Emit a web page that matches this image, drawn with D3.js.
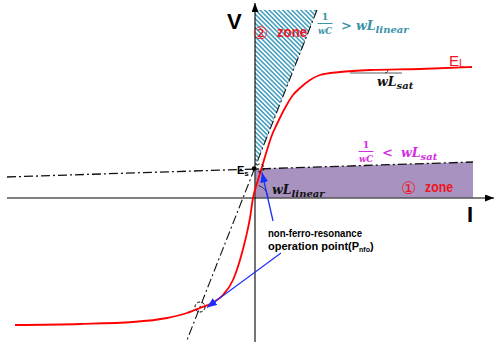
<!DOCTYPE html>
<html>
<head>
<meta charset="utf-8">
<script src="https://cdn.jsdelivr.net/npm/d3@7"></script>
<style>
  html, body { margin: 0; padding: 0; background: #fff; }
  svg { display: block; }
</style>
</head>
<body>
<svg id="chart" width="497" height="342"></svg>
<script>
// Magnetising characteristic E_L: current I vs voltage V (arbitrary units)
const curveI = [-24.0, -17.5, -12.2, -8.8, -6.8, -5.5, -4.3, -3.2, -2.2, -1.5, -0.9, -0.5, -0.2,
                0.3, 0.7, 1.2, 1.7, 2.2, 3.0, 3.8, 4.5, 5.5, 6.5, 8.5, 11.5, 16.5, 21.7];
const curveV = [-12.7, -12.6, -12.4, -12.0, -11.5, -11.0, -10.5, -9.7, -8.2, -6.2, -3.9, -2.0, 0.0,
                1.8, 3.1, 4.8, 6.3, 7.4, 9.0, 10.3, 11.0, 11.8, 12.3, 12.6, 12.8, 12.9, 13.1];

// Capacitor load lines (1/wC) through the source voltage Es
const esPoint = [-0.1, 2.95];
const satLineI = [-24.8, 21.8];     // shallow line (1/wC < wL_sat)
const satLineV = [2.1, 3.6];
const linLineI = [6.2, -6.8];       // steep line (1/wC > wL_linear)
const linLineV = [18.8, -14.2];

// Non-ferro-resonance operating point
const nfoPoint = [-5.5, -10.9];

// Zone extents
const zone2TopV = 18.8;
const zone1RightI = 21.8;

const W = 497, H = 342;
const x = d3.scaleLinear().domain([-25.5, 24.2]).range([0, W]);
const y = d3.scaleLinear().domain([19.8, -14.4]).range([0, H]);

const svg = d3.select("#chart");
const defs = svg.append("defs");

// diagonal hatch for zone 2
const pat = defs.append("pattern")
  .attr("id", "hatch").attr("patternUnits", "userSpaceOnUse")
  .attr("width", 3.2).attr("height", 3.2)
  .attr("patternTransform", "rotate(-45)");
pat.append("rect").attr("width", 3.2).attr("height", 3.2).attr("fill", "#fff");
pat.append("line").attr("x1", 0.8).attr("y1", 0).attr("x2", 0.8).attr("y2", 3.2)
  .attr("stroke", "#3f9cbc").attr("stroke-width", 1.5);

function arrowMarker(id, color, w, h) {
  defs.append("marker").attr("id", id)
    .attr("viewBox", `0 0 ${w} ${h}`).attr("refX", w).attr("refY", h / 2)
    .attr("markerWidth", w).attr("markerHeight", h)
    .attr("markerUnits", "userSpaceOnUse").attr("orient", "auto")
    .append("path").attr("d", `M0,0L${w},${h / 2}L0,${h}Z`).attr("fill", color);
}
arrowMarker("axArrow", "#000", 9, 7);
arrowMarker("blueArrow", "#1a2eff", 10, 8);

const lineAt = (I0, I1, V0, V1) => I => V0 + (V1 - V0) * (I - I0) / (I1 - I0);
const satV = lineAt(satLineI[0], satLineI[1], satLineV[0], satLineV[1]);
const linI = V => linLineI[0] + (linLineI[1] - linLineI[0]) * (V - linLineV[0]) / (linLineV[1] - linLineV[0]);

const poly = pts => "M" + pts.map(p => `${x(p[0])},${y(p[1])}`).join("L") + "Z";

// zone 1 (purple band under the shallow load line)
svg.append("path")
  .attr("d", poly([[0.05, 0], [0.05, satV(0.05)], [zone1RightI, satV(zone1RightI)], [zone1RightI, 0]]))
  .attr("fill", "#a892bf");

// zone 2 (hatched wedge between V axis and steep load line)
const apexV = linLineV[0] + (linLineV[1] - linLineV[0]) * (0 - linLineI[0]) / (linLineI[1] - linLineI[0]);
svg.append("path")
  .attr("d", poly([[0, zone2TopV], [linI(zone2TopV), zone2TopV], [0, apexV]]))
  .attr("fill", "url(#hatch)");

// axes
svg.append("line")
  .attr("x1", x(-24.8)).attr("y1", y(0)).attr("x2", x(23.9)).attr("y2", y(0))
  .attr("stroke", "#555").attr("stroke-width", 1.4).attr("marker-end", "url(#axArrow)");
svg.append("line")
  .attr("x1", x(0)).attr("y1", H).attr("x2", x(0)).attr("y2", y(19.5))
  .attr("stroke", "#000").attr("stroke-width", 1.1).attr("marker-end", "url(#axArrow)");

// load lines (dash-dot)
const dashDot = "9,3,2,3";
svg.append("line")
  .attr("x1", x(satLineI[0])).attr("y1", y(satLineV[0]))
  .attr("x2", x(satLineI[1])).attr("y2", y(satLineV[1]))
  .attr("stroke", "#111").attr("stroke-width", 1.3).attr("stroke-dasharray", dashDot);
svg.append("line")
  .attr("x1", x(linLineI[0])).attr("y1", y(linLineV[0]))
  .attr("x2", x(linLineI[1])).attr("y2", y(linLineV[1]))
  .attr("stroke", "#111").attr("stroke-width", 1.1).attr("stroke-dasharray", dashDot);

// magnetising curve
const curve = curveI.map((d, i) => [d, curveV[i]]);
svg.append("path")
  .attr("d", d3.line().x(d => x(d[0])).y(d => y(d[1])).curve(d3.curveMonotoneX)(curve))
  .attr("fill", "none").attr("stroke", "#f00").attr("stroke-width", 1.8);

// tangent at saturation
svg.append("line").attr("x1", x(9.5)).attr("y1", y(12.5)).attr("x2", x(14.7)).attr("y2", y(12.5))
  .attr("stroke", "#333").attr("stroke-width", 0.8);
svg.append("path")
  .attr("d", `M${x(13.0)},${y(12.5)} A3,3 0 0 0 ${x(13.3)},${y(12.8)}`)
  .attr("fill", "none").attr("stroke", "#333").attr("stroke-width", 0.8);

// angle of linear slope at origin
const ox = x(0), oy = y(0), r = 13, ang = 74 * Math.PI / 180;
svg.append("path")
  .attr("d", `M${ox + r},${oy} A${r},${r} 0 0 0 ${ox + r * Math.cos(ang)},${oy - r * Math.sin(ang)}`)
  .attr("fill", "none").attr("stroke", "#222").attr("stroke-width", 0.9);

// Es point and dashed markers
svg.append("circle").attr("cx", x(esPoint[0])).attr("cy", y(esPoint[1])).attr("r", 2.2).attr("fill", "#000");
svg.append("circle").attr("cx", x(esPoint[0]) + 6).attr("cy", y(esPoint[1]) - 0.5).attr("r", 4)
  .attr("fill", "none").attr("stroke", "#000").attr("stroke-width", 1).attr("stroke-dasharray", "3,2");
svg.append("circle").attr("cx", x(nfoPoint[0])).attr("cy", y(nfoPoint[1])).attr("r", 5)
  .attr("fill", "none").attr("stroke", "#000").attr("stroke-width", 1).attr("stroke-dasharray", "3,2");

// pointer arrows from the note
svg.append("line").attr("x1", 273).attr("y1", 221).attr("x2", x(esPoint[0]) + 8).attr("y2", y(esPoint[1]) + 4)
  .attr("stroke", "#1a2eff").attr("stroke-width", 1.3).attr("marker-end", "url(#blueArrow)");
svg.append("line").attr("x1", 281).attr("y1", 253).attr("x2", x(nfoPoint[0]) + 7).attr("y2", y(nfoPoint[1]) + 0.5)
  .attr("stroke", "#1a2eff").attr("stroke-width", 1.1).attr("marker-end", "url(#blueArrow)");

// text helpers
const sans = "'Liberation Sans', Arial, sans-serif";
const serif = "'DejaVu Serif', 'Liberation Serif', serif";
function txt(xp, yp, s, o = {}) {
  return svg.append("text").attr("x", xp).attr("y", yp).text(s)
    .attr("font-family", o.family || sans).attr("font-size", o.size || 12)
    .attr("font-weight", o.weight || "bold").attr("font-style", o.style || "normal")
    .attr("fill", o.fill || "#000").attr("text-anchor", o.anchor || "start");
}
function sub(xp, yp, main, s, o) {
  const t = svg.append("text").attr("x", xp).attr("y", yp)
    .attr("font-family", o.family).attr("font-weight", "bold").attr("font-style", o.style || "normal")
    .attr("fill", o.fill);
  t.append("tspan").attr("font-size", o.size).text(main);
  t.append("tspan").attr("font-size", o.subSize).attr("dy", o.dy).text(s);
  return t;
}
function frac(cx, yTop, color) {
  txt(cx, yTop, "1", { family: serif, size: 9.5, fill: color, anchor: "middle" });
  svg.append("line").attr("x1", cx - 7.5).attr("x2", cx + 7.5).attr("y1", yTop + 3.5).attr("y2", yTop + 3.5)
    .attr("stroke", color).attr("stroke-width", 1);
  txt(cx, yTop + 14, "wC", { family: serif, size: 8.5, fill: color, anchor: "middle", style: "italic" });
}

// axis labels
txt(227, 29, "V", { size: 22 });
txt(467, 222, "I", { size: 22 });

// zone 2 annotation
txt(253, 39, "②", { family: "'DejaVu Sans', sans-serif", size: 17, weight: "normal", fill: "#f0141e" });
txt(277, 37, "zone", { size: 14, fill: "#f0141e" }).attr("textLength", 30).attr("lengthAdjust", "spacingAndGlyphs");
const teal = "#3c93a8";
frac(325, 20, teal);
txt(341, 30, ">", { family: serif, size: 13, fill: teal });
sub(356, 30, "wL", "linear", { family: serif, style: "italic", size: 12.5, subSize: 10, dy: 3, fill: teal });

// zone 1 annotation
const mag = "#d22ee0";
frac(366, 148, mag);
txt(382, 157, "<", { family: serif, size: 13, fill: mag });
sub(401, 157, "wL", "sat", { family: serif, style: "italic", size: 12.5, subSize: 10, dy: 3, fill: mag });
txt(401, 194, "①", { family: "'DejaVu Sans', sans-serif", size: 17, weight: "normal", fill: "#f0141e" });
txt(425, 192, "zone", { size: 14, fill: "#f0141e" }).attr("textLength", 28).attr("lengthAdjust", "spacingAndGlyphs");

// curve labels
sub(449, 66, "E", "L", { family: sans, size: 15, subSize: 11, dy: 1, fill: "#f0141e" }).attr("font-weight", "normal");
sub(377, 86, "wL", "sat", { family: serif, style: "italic", size: 12.5, subSize: 10, dy: 3, fill: "#111" });
sub(272, 194, "wL", "linear", { family: serif, style: "italic", size: 12.5, subSize: 10, dy: 3, fill: "#111" });
sub(237, 174, "E", "s", { family: sans, size: 11, subSize: 8, dy: 1.5, fill: "#000" });

// note
txt(268, 237, "non-ferro-resonance", { size: 11 }).attr("textLength", 94).attr("lengthAdjust", "spacingAndGlyphs");
const note = svg.append("text").attr("x", 268).attr("y", 250)
  .attr("font-family", sans).attr("font-weight", "bold").attr("fill", "#000");
note.append("tspan").attr("font-size", 11).text("operation  point(P");
note.append("tspan").attr("font-size", 7).attr("dy", 1.5).text("nfo");
note.append("tspan").attr("font-size", 11).attr("dy", -1.5).text(")");
</script>
</body>
</html>
